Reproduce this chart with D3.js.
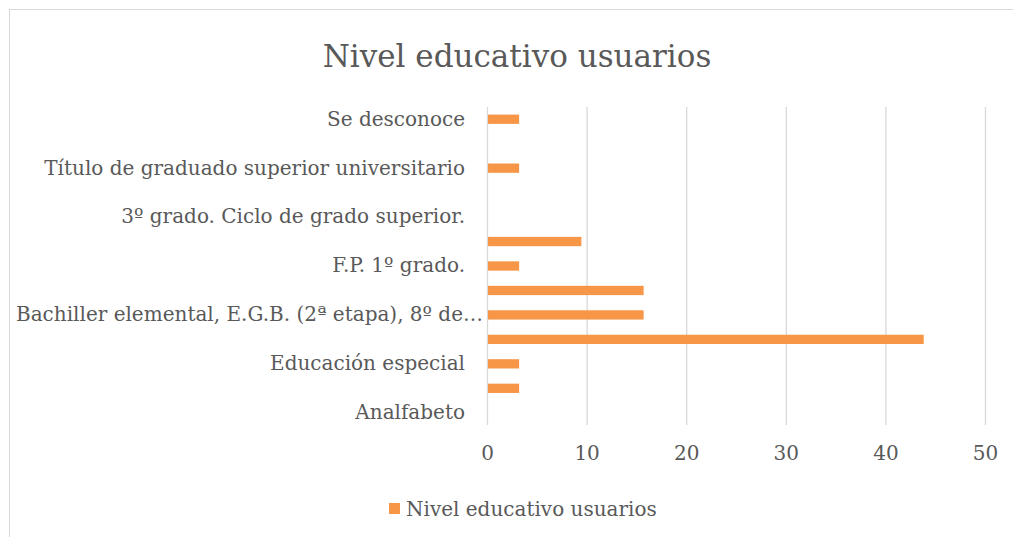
<!DOCTYPE html>
<html>
<head>
<meta charset="utf-8">
<script src="https://cdn.jsdelivr.net/npm/d3@7"></script>
<style>
  body { margin: 0; background: #fff; }
  svg text { font-family: "DejaVu Serif", "Liberation Serif", serif; fill: #595959; }
</style>
</head>
<body>
<svg id="chart" width="1013" height="537"></svg>
<script>
// categories bottom -> top (only every other one gets a label, like the original)
var categories = [
  "Analfabeto",
  "Sin estudios",
  "Educación especial",
  "Educación primaria",
  "Bachiller elemental, E.G.B. (2ª etapa), 8º de…",
  "Bachiller superior, B.U.P.",
  "F.P. 1º grado.",
  "F.P. 2º grado.",
  "3º grado. Ciclo de grado superior.",
  "Título de diplomado",
  "Título de graduado superior universitario",
  "Doctorado",
  "Se desconoce"
];
var values = [0, 3.125, 3.125, 43.75, 15.625, 15.625, 3.125, 9.375, 0, 0, 3.125, 0, 3.125];
var xTicks = [0, 10, 20, 30, 40, 50];
var title = "Nivel educativo usuarios";
var seriesName = "Nivel educativo usuarios";

var svg = d3.select("#chart");
var grey = "#d9d9d9", orange = "#f79646";

// outer chart frame
svg.append("rect")
  .attr("x", 9.5).attr("y", 9.5)
  .attr("width", 1020).attr("height", 540)
  .attr("fill", "none").attr("stroke", grey);

svg.append("text")
  .attr("x", 517).attr("y", 67)
  .attr("text-anchor", "middle")
  .style("font-size", "31px")
  .text(title);

var plotL = 487, plotR = 985, plotT = 107, plotB = 425;

var x = d3.scaleLinear().domain([0, 50]).range([plotL, plotR]);
var y = d3.scaleBand().domain(d3.range(categories.length).reverse())
  .range([plotT, plotB]).paddingInner(0.62).paddingOuter(0.31);

// vertical gridlines
svg.append("g").selectAll("line").data(xTicks).join("line")
  .attr("x1", d => x(d) + 0.5).attr("x2", d => x(d) + 0.5)
  .attr("y1", plotT).attr("y2", plotB)
  .attr("stroke", grey).attr("stroke-width", 1.3);

// bars
svg.append("g").selectAll("rect").data(values).join("rect")
  .attr("x", x(0) + 1)
  .attr("y", (d, i) => y(i))
  .attr("width", d => Math.max(0, x(d) - x(0)))
  .attr("height", y.bandwidth())
  .attr("fill", orange);

// x axis labels
var xAxis = svg.append("g")
  .attr("transform", "translate(0," + plotB + ")")
  .call(d3.axisBottom(x).tickValues(xTicks).tickSize(0).tickPadding(21));
xAxis.select(".domain").remove();
xAxis.selectAll("text").style("font-size", "20px").attr("fill", "#595959");

// y axis labels, every other category
var yAxis = svg.append("g")
  .attr("transform", "translate(" + (plotL - 22) + ",0)")
  .call(d3.axisLeft(y).tickValues(d3.range(0, categories.length, 2))
    .tickFormat(i => categories[i]).tickSize(0).tickPadding(0));
yAxis.select(".domain").remove();
yAxis.selectAll("text").style("font-size", "20px").attr("fill", "#595959");
// the truncated long label spills a bit to the right, as in the source chart
yAxis.selectAll("text").filter(i => i === 4).attr("dx", 18);

// legend
var lg = svg.append("g").attr("transform", "translate(389,503)");
lg.append("rect").attr("width", 11).attr("height", 11).attr("fill", orange);
lg.append("text").attr("x", 17).attr("y", 6).attr("dy", "0.35em")
  .style("font-size", "20px").text(seriesName);
</script>
</body>
</html>
